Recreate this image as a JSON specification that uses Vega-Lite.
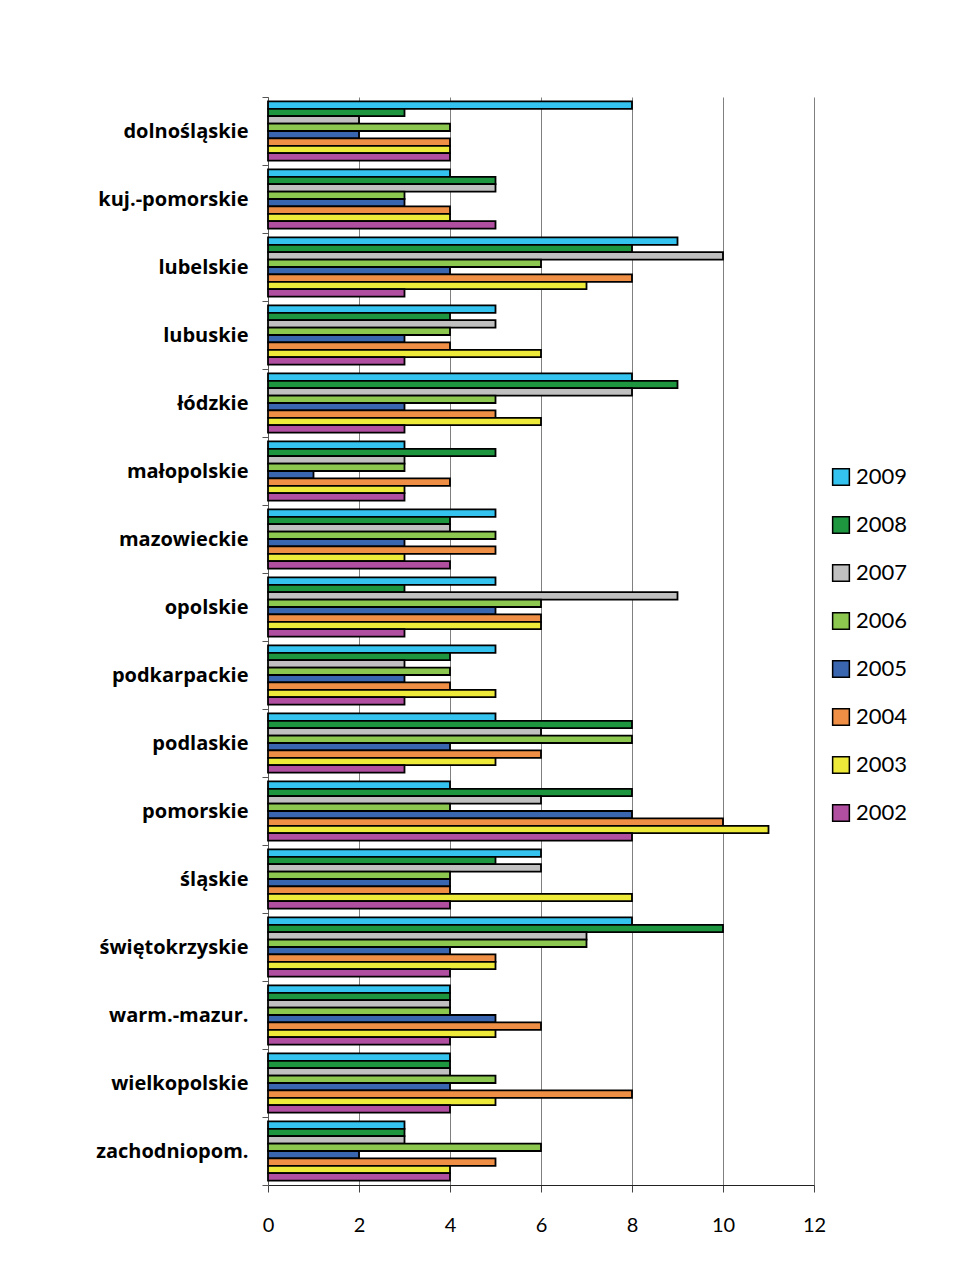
{
  "$schema": "https://vega.github.io/schema/vega-lite/v6.json",
  "width": 546,
  "height": 1088,
  "autosize": {"type": "none"},
  "padding": {"left": 268, "top": 97, "right": 151, "bottom": 93},
  "background": "white",
  "config": {
    "view": {"stroke": null},
    "font": "Lato"
  },
  "data": {
    "values": [
      {"region":"dolnośląskie","year":"2009","value":8},{"region":"dolnośląskie","year":"2008","value":3},{"region":"dolnośląskie","year":"2007","value":2},{"region":"dolnośląskie","year":"2006","value":4},{"region":"dolnośląskie","year":"2005","value":2},{"region":"dolnośląskie","year":"2004","value":4},{"region":"dolnośląskie","year":"2003","value":4},{"region":"dolnośląskie","year":"2002","value":4},
      {"region":"kuj.-pomorskie","year":"2009","value":4},{"region":"kuj.-pomorskie","year":"2008","value":5},{"region":"kuj.-pomorskie","year":"2007","value":5},{"region":"kuj.-pomorskie","year":"2006","value":3},{"region":"kuj.-pomorskie","year":"2005","value":3},{"region":"kuj.-pomorskie","year":"2004","value":4},{"region":"kuj.-pomorskie","year":"2003","value":4},{"region":"kuj.-pomorskie","year":"2002","value":5},
      {"region":"lubelskie","year":"2009","value":9},{"region":"lubelskie","year":"2008","value":8},{"region":"lubelskie","year":"2007","value":10},{"region":"lubelskie","year":"2006","value":6},{"region":"lubelskie","year":"2005","value":4},{"region":"lubelskie","year":"2004","value":8},{"region":"lubelskie","year":"2003","value":7},{"region":"lubelskie","year":"2002","value":3},
      {"region":"lubuskie","year":"2009","value":5},{"region":"lubuskie","year":"2008","value":4},{"region":"lubuskie","year":"2007","value":5},{"region":"lubuskie","year":"2006","value":4},{"region":"lubuskie","year":"2005","value":3},{"region":"lubuskie","year":"2004","value":4},{"region":"lubuskie","year":"2003","value":6},{"region":"lubuskie","year":"2002","value":3},
      {"region":"łódzkie","year":"2009","value":8},{"region":"łódzkie","year":"2008","value":9},{"region":"łódzkie","year":"2007","value":8},{"region":"łódzkie","year":"2006","value":5},{"region":"łódzkie","year":"2005","value":3},{"region":"łódzkie","year":"2004","value":5},{"region":"łódzkie","year":"2003","value":6},{"region":"łódzkie","year":"2002","value":3},
      {"region":"małopolskie","year":"2009","value":3},{"region":"małopolskie","year":"2008","value":5},{"region":"małopolskie","year":"2007","value":3},{"region":"małopolskie","year":"2006","value":3},{"region":"małopolskie","year":"2005","value":1},{"region":"małopolskie","year":"2004","value":4},{"region":"małopolskie","year":"2003","value":3},{"region":"małopolskie","year":"2002","value":3},
      {"region":"mazowieckie","year":"2009","value":5},{"region":"mazowieckie","year":"2008","value":4},{"region":"mazowieckie","year":"2007","value":4},{"region":"mazowieckie","year":"2006","value":5},{"region":"mazowieckie","year":"2005","value":3},{"region":"mazowieckie","year":"2004","value":5},{"region":"mazowieckie","year":"2003","value":3},{"region":"mazowieckie","year":"2002","value":4},
      {"region":"opolskie","year":"2009","value":5},{"region":"opolskie","year":"2008","value":3},{"region":"opolskie","year":"2007","value":9},{"region":"opolskie","year":"2006","value":6},{"region":"opolskie","year":"2005","value":5},{"region":"opolskie","year":"2004","value":6},{"region":"opolskie","year":"2003","value":6},{"region":"opolskie","year":"2002","value":3},
      {"region":"podkarpackie","year":"2009","value":5},{"region":"podkarpackie","year":"2008","value":4},{"region":"podkarpackie","year":"2007","value":3},{"region":"podkarpackie","year":"2006","value":4},{"region":"podkarpackie","year":"2005","value":3},{"region":"podkarpackie","year":"2004","value":4},{"region":"podkarpackie","year":"2003","value":5},{"region":"podkarpackie","year":"2002","value":3},
      {"region":"podlaskie","year":"2009","value":5},{"region":"podlaskie","year":"2008","value":8},{"region":"podlaskie","year":"2007","value":6},{"region":"podlaskie","year":"2006","value":8},{"region":"podlaskie","year":"2005","value":4},{"region":"podlaskie","year":"2004","value":6},{"region":"podlaskie","year":"2003","value":5},{"region":"podlaskie","year":"2002","value":3},
      {"region":"pomorskie","year":"2009","value":4},{"region":"pomorskie","year":"2008","value":8},{"region":"pomorskie","year":"2007","value":6},{"region":"pomorskie","year":"2006","value":4},{"region":"pomorskie","year":"2005","value":8},{"region":"pomorskie","year":"2004","value":10},{"region":"pomorskie","year":"2003","value":11},{"region":"pomorskie","year":"2002","value":8},
      {"region":"śląskie","year":"2009","value":6},{"region":"śląskie","year":"2008","value":5},{"region":"śląskie","year":"2007","value":6},{"region":"śląskie","year":"2006","value":4},{"region":"śląskie","year":"2005","value":4},{"region":"śląskie","year":"2004","value":4},{"region":"śląskie","year":"2003","value":8},{"region":"śląskie","year":"2002","value":4},
      {"region":"świętokrzyskie","year":"2009","value":8},{"region":"świętokrzyskie","year":"2008","value":10},{"region":"świętokrzyskie","year":"2007","value":7},{"region":"świętokrzyskie","year":"2006","value":7},{"region":"świętokrzyskie","year":"2005","value":4},{"region":"świętokrzyskie","year":"2004","value":5},{"region":"świętokrzyskie","year":"2003","value":5},{"region":"świętokrzyskie","year":"2002","value":4},
      {"region":"warm.-mazur.","year":"2009","value":4},{"region":"warm.-mazur.","year":"2008","value":4},{"region":"warm.-mazur.","year":"2007","value":4},{"region":"warm.-mazur.","year":"2006","value":4},{"region":"warm.-mazur.","year":"2005","value":5},{"region":"warm.-mazur.","year":"2004","value":6},{"region":"warm.-mazur.","year":"2003","value":5},{"region":"warm.-mazur.","year":"2002","value":4},
      {"region":"wielkopolskie","year":"2009","value":4},{"region":"wielkopolskie","year":"2008","value":4},{"region":"wielkopolskie","year":"2007","value":4},{"region":"wielkopolskie","year":"2006","value":5},{"region":"wielkopolskie","year":"2005","value":4},{"region":"wielkopolskie","year":"2004","value":8},{"region":"wielkopolskie","year":"2003","value":5},{"region":"wielkopolskie","year":"2002","value":4},
      {"region":"zachodniopom.","year":"2009","value":3},{"region":"zachodniopom.","year":"2008","value":3},{"region":"zachodniopom.","year":"2007","value":3},{"region":"zachodniopom.","year":"2006","value":6},{"region":"zachodniopom.","year":"2005","value":2},{"region":"zachodniopom.","year":"2004","value":5},{"region":"zachodniopom.","year":"2003","value":4},{"region":"zachodniopom.","year":"2002","value":4}
    ]
  },
  "mark": {"type": "bar", "stroke": "black", "strokeWidth": 1.8},
  "encoding": {
    "y": {
      "field": "region",
      "type": "nominal",
      "sort": null,
      "scale": {"paddingInner": 0, "paddingOuter": 0},
      "axis": {
        "title": null,
        "tickBand": "extent",
        "labelFont": "Open Sans",
        "labelFontSize": 20,
        "labelFontWeight": "bold",
        "labelColor": "black",
        "labelPadding": 14,
        "tickSize": 6,
        "tickColor": "#555",
        "domainColor": "#555",
        "grid": false
      }
    },
    "yOffset": {
      "field": "year",
      "type": "nominal",
      "sort": ["2009","2008","2007","2006","2005","2004","2003","2002"],
      "scale": {"paddingInner": 0, "paddingOuter": 0.6}
    },
    "x": {
      "field": "value",
      "type": "quantitative",
      "scale": {"domain": [0, 12], "nice": false},
      "axis": {
        "title": null,
        "values": [0, 2, 4, 6, 8, 10, 12],
        "grid": true,
        "gridColor": "#808080",
        "gridWidth": 1,
        "labelFlush": false,
        "labelFontSize": 20,
        "labelColor": "black",
        "labelFontWeight": "normal",
        "labelPadding": 23,
        "tickSize": 7,
        "tickColor": "#444",
        "domainColor": "#222"
      }
    },
    "color": {
      "field": "year",
      "type": "nominal",
      "scale": {
        "domain": ["2009","2008","2007","2006","2005","2004","2003","2002"],
        "range": ["#33C3EE","#1E9640","#C0C0C0","#8CC850","#3A66B0","#EE8F45","#EEEA3A","#B04E9F"]
      },
      "legend": {
        "title": null,
        "orient": "none",
        "legendX": 562,
        "legendY": 369,
        "symbolType": "square",
        "symbolSize": 280,
        "symbolStrokeColor": "black",
        "symbolStrokeWidth": 1.5,
        "labelFontSize": 22,
        "labelColor": "black",
        "rowPadding": 24,
        "labelOffset": 4
      }
    }
  }
}
